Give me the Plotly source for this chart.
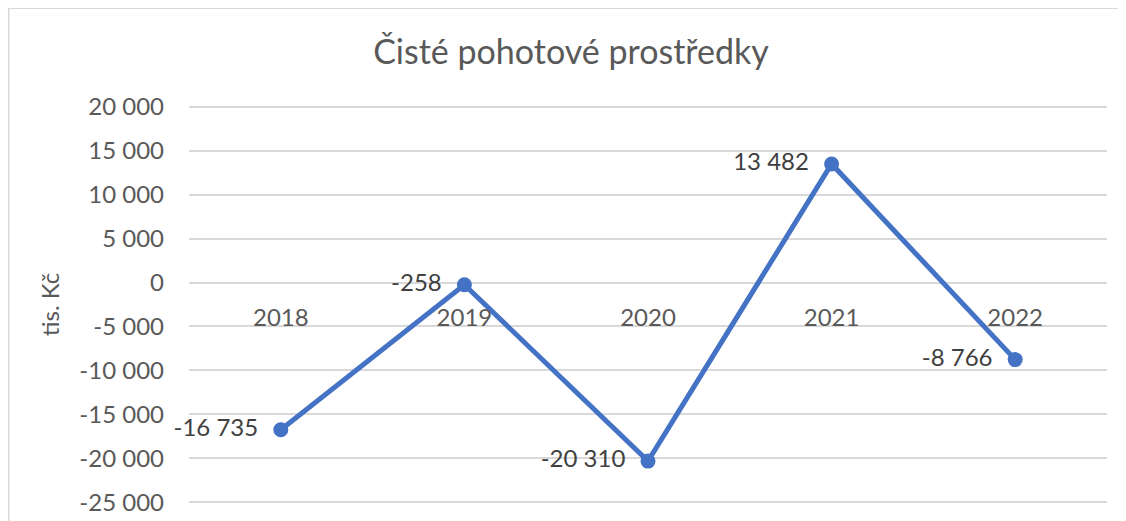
import plotly.graph_objects as go

years = ["2018", "2019", "2020", "2021", "2022"]
values = [-16735, -258, -20310, 13482, -8766]
tick_vals = [20000, 15000, 10000, 5000, 0, -5000, -10000, -15000, -20000, -25000]
tick_text = ["20 000", "15 000", "10 000", "5 000", "0", "-5 000", "-10 000", "-15 000", "-20 000", "-25 000"]

def fmt(v):
    s = f"{abs(v):,}".replace(",", " ")
    return ("-" if v < 0 else "") + s

labels = [fmt(v) + "\u00a0\u00a0" for v in values]

# page has an 8px body margin; work in figure coordinates
OFF = 8
ymin, ymax = -25000, 20000
pad = 300
top_px, bot_px = 107, 502          # page pixels of ymax / ymin gridlines
k = (bot_px - top_px) / (ymax - ymin)
pad_px = pad * k

W, H = 1126 - OFF, 521 - OFF
L = 189 - OFF
T = top_px - OFF - pad_px
R = W - (1107 - OFF)
B = H - (bot_px - OFF + pad_px)
FONT = "Lato, Carlito, Calibri, sans-serif"
GRAY = "#595959"
DARK = "#404040"
GRID = "#D9D9D9"
BLUE = "#4472C4"

zero_pos = (0 - (ymin - pad)) / ((ymax + pad) - (ymin - pad))

pw = W - L - R
ph = H - T - B
def px(x):
    return (x - OFF - L) / pw
def py(y):
    return (H - B - (y - OFF)) / ph

fig = go.Figure()
fig.add_trace(go.Scatter(
    x=years, y=values, mode="lines+markers+text",
    line=dict(color=BLUE, width=5),
    marker=dict(color=BLUE, size=15),
    text=labels, textposition="middle left",
    textfont=dict(family=FONT, size=24, color=DARK),
    cliponaxis=False, showlegend=False, hoverinfo="x+y",
))

fig.update_layout(
    width=W, height=H,
    margin=dict(l=L, r=R, t=T, b=B, autoexpand=False),
    paper_bgcolor="white", plot_bgcolor="white",
    font=dict(family=FONT, color=GRAY),
    title=dict(text="Čisté pohotové prostředky", x=(571 - OFF) / W, xanchor="center",
               y=1 - (52 - OFF) / H, yanchor="middle", xref="container", yref="container",
               font=dict(family=FONT, size=34, color=GRAY)),
    xaxis=dict(
        type="category", range=[-0.5, 4.5],
        showgrid=False, zeroline=False, showline=False,
        ticks="", anchor="free", position=zero_pos, automargin=False,
        tickfont=dict(family=FONT, size=24, color=GRAY),
        ticklabelstandoff=18,
    ),
    yaxis=dict(
        range=[ymin - pad, ymax + pad], tickvals=tick_vals, ticktext=tick_text,
        showgrid=True, gridcolor=GRID, gridwidth=1.5,
        zeroline=True, zerolinecolor=GRID, zerolinewidth=1.5,
        showline=False, ticks="", automargin=False,
        tickfont=dict(family=FONT, size=24, color=GRAY),
        ticklabelstandoff=24,
        title=dict(text="tis. Kč", font=dict(family=FONT, size=24, color=GRAY), standoff=12),
    ),
    shapes=[dict(type="rect", xref="paper", yref="paper",
                 x0=px(OFF + 0.75), x1=px(1140), y0=py(540), y1=py(OFF + 0.75),
                 line=dict(color=GRID, width=1.5), fillcolor="rgba(0,0,0,0)", layer="below")],
)

fig.write_html("out.html")
